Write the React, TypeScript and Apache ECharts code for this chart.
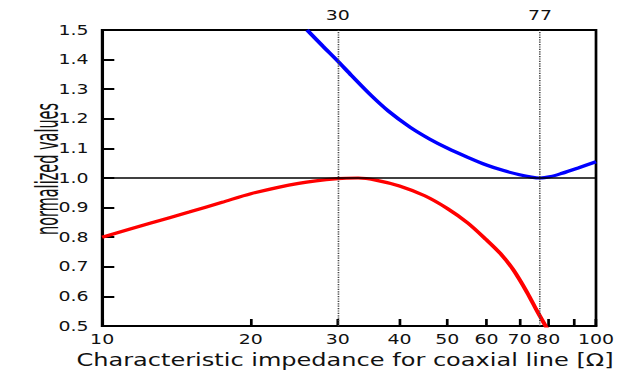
import React, { useEffect, useRef } from "react";
import * as echarts from "echarts";

// Characteristic impedance (ohm) and normalized values
const BLUE_Z = [26, 28, 30, 32, 35, 38, 42, 46, 50, 55, 60, 65, 70, 74, 77, 81, 85, 92, 100];
const BLUE_V = [1.5, 1.445, 1.395, 1.346, 1.28, 1.226, 1.172, 1.132, 1.101, 1.07, 1.044, 1.025, 1.011, 1.003, 1.0, 1.005, 1.015, 1.034, 1.055];

const RED_Z = [10, 12.5, 15, 17.5, 20, 25, 30, 33, 36, 40, 45, 50, 55, 60, 64, 68, 72.5, 76, 80];
const RED_V = [0.8, 0.847, 0.885, 0.918, 0.947, 0.982, 0.998, 1.0, 0.992, 0.973, 0.94, 0.897, 0.848, 0.791, 0.745, 0.69, 0.614, 0.55, 0.485];

const X_TICKS = [10, 20, 30, 40, 50, 60, 70, 80, 90, 100];
const X_LABELS = [10, 20, 30, 40, 50, 60, 70, 80, 100];
const TOP_MARKS = [30, 77];
const UNITY = 1.0;

const SX = 631 / 467;
const FONT = "'DejaVu Sans', sans-serif";

export default function App() {
  const ref = useRef<HTMLDivElement>(null);
  useEffect(() => {
    if (!ref.current) return;
    const chart = echarts.init(ref.current, null, { renderer: "svg" });
    const blue = BLUE_Z.map((z, i) => [z, BLUE_V[i]]);
    const red = RED_Z.map((z, i) => [z, RED_V[i]]);
    const markData: any[] = TOP_MARKS.map((v) => ({
      xAxis: v,
      lineStyle: { type: "dotted", color: "#444", width: 1.2 },
      label: {
        show: true,
        position: "end",
        distance: 8,
        formatter: String(v),
        color: "#111",
        fontFamily: FONT,
        fontSize: 14,
      },
    }));
    markData.push({
      yAxis: UNITY,
      lineStyle: { type: "solid", color: "#000", width: 1.5 },
      label: { show: false },
    });
    chart.setOption({
      animation: false,
      backgroundColor: "#fff",
      grid: {
        left: 75.6,
        right: 25.9,
        top: 30,
        bottom: 49,
        show: true,
        borderColor: "#000",
        borderWidth: 2,
        containLabel: false,
      },
      xAxis: {
        type: "log",
        logBase: 10,
        min: 10,
        max: 100,
        name: "Characteristic impedance for coaxial line [Ω]",
        nameLocation: "middle",
        nameGap: 23,
        nameTextStyle: { fontFamily: FONT, fontSize: 17.8, color: "#111", padding: [0, 6, 0, 0] },
        axisLine: { show: true, lineStyle: { color: "#000", width: 2 } },
        axisTick: {
          show: true,
          inside: true,
          length: 7,
          customValues: X_TICKS,
          lineStyle: { color: "#000", width: 2 },
        },
        axisLabel: {
          customValues: X_LABELS,
          formatter: (v: number) => String(Math.round(v)),
          margin: 6,
          color: "#111",
          fontFamily: FONT,
          fontSize: 14,
        },
        splitLine: { show: false },
        minorTick: { show: false },
      },
      yAxis: {
        type: "value",
        min: 0.5,
        max: 1.5,
        interval: 0.1,
        axisLine: { show: true, lineStyle: { color: "#000", width: 2 } },
        axisTick: { show: true, inside: true, length: 9, lineStyle: { color: "#000", width: 2 } },
        axisLabel: {
          formatter: (v: number) => v.toFixed(1),
          margin: 10,
          color: "#111",
          fontFamily: FONT,
          fontSize: 14,
        },
        splitLine: { show: false },
      },
      graphic: [
        {
          type: "text",
          x: 35,
          y: 169,
          rotation: Math.PI / 2,
          scaleX: 0.7,
          style: {
            text: "normalized values",
            align: "center",
            verticalAlign: "middle",
            fontFamily: "'DejaVu Sans Condensed', sans-serif",
            fontSize: 23,
            fill: "#111",
          },
        },
      ],
      series: [
        {
          type: "line",
          data: red,
          showSymbol: false,
          smooth: 0.3,
          lineStyle: { color: "#ff0000", width: 3.2 },
          itemStyle: { color: "#ff0000" },
          z: 3,
          markLine: {
            symbol: "none",
            silent: true,
            animation: false,
            data: markData,
          },
        },
        {
          type: "line",
          data: blue,
          showSymbol: false,
          smooth: 0.3,
          lineStyle: { color: "#0000ff", width: 3.2 },
          itemStyle: { color: "#0000ff" },
          z: 3,
        },
      ],
    });
    return () => chart.dispose();
  }, []);
  return (
    <div style={{ position: "fixed", left: 0, top: 0, width: 631, height: 375, overflow: "hidden", background: "#fff" }}>
      <div
        ref={ref}
        style={{ width: 467, height: 375, transform: `scaleX(${SX})`, transformOrigin: "0 0" }}
      />
    </div>
  );
}
